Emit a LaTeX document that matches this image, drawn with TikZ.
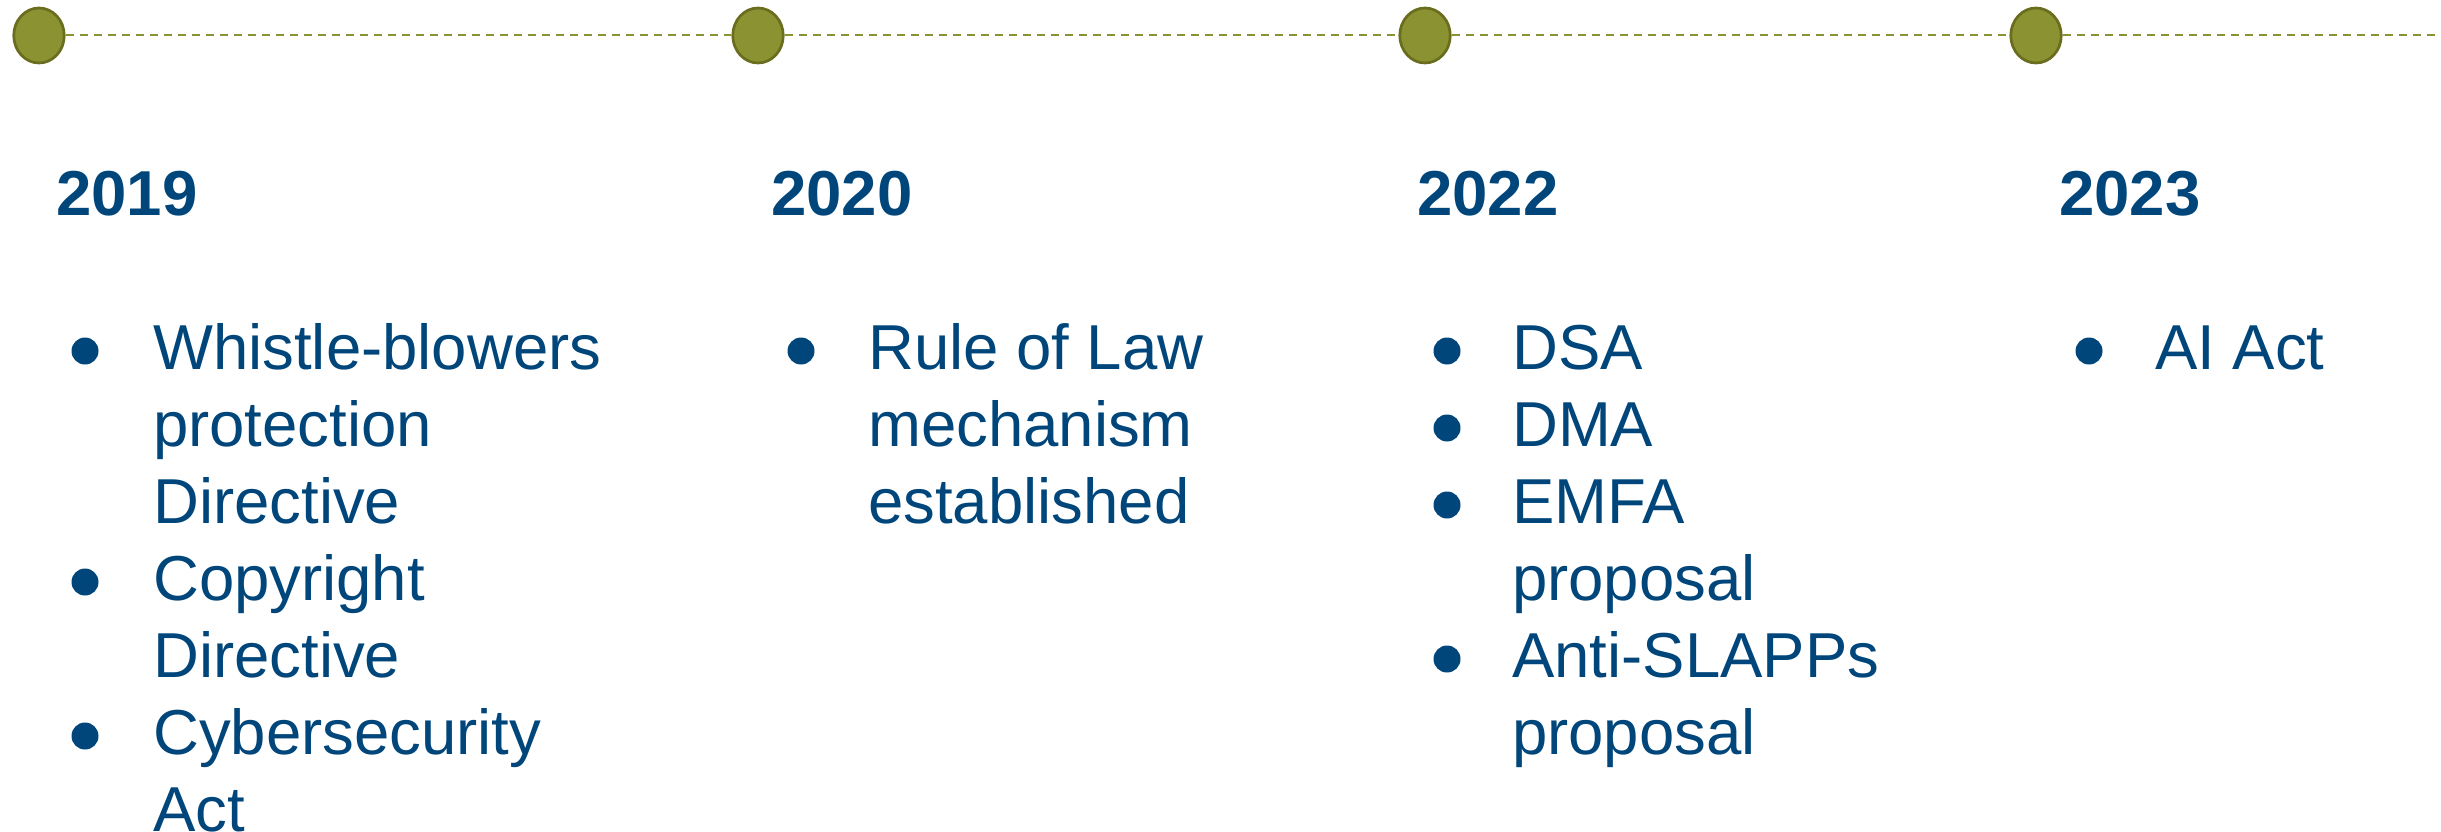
\documentclass[tikz,border=0pt]{standalone}
\usepackage{fontspec}
\setmainfont{Liberation Sans}
\usetikzlibrary{shapes.geometric}
\definecolor{olivedot}{HTML}{8B9232}
\definecolor{olivedraw}{HTML}{6A6D1E}
\definecolor{lawblue}{HTML}{00467A}

\begin{document}
\begin{tikzpicture}[x=1pt,y=-1pt,
    yeardot/.style={ellipse,draw=olivedraw,fill=olivedot,line width=2.7pt,
      minimum width=50.5pt,minimum height=55pt,inner sep=0pt},
    timeline/.style={draw=olivedot,line width=2pt,dash pattern=on 8pt off 6pt},
    yearlabel/.style={anchor=base west,inner sep=0pt,text=lawblue,
      font=\fontsize{63.5}{77}\selectfont\bfseries},
    itemtext/.style={anchor=base west,inner sep=0pt,text=lawblue,align=left,
      font=\fontsize{63.5}{77}\selectfont},
    itemdot/.style={circle,fill=lawblue,minimum size=27pt,inner sep=0pt}]
  \useasboundingbox (0,0) rectangle (2441,832);
  % timeline
  \node[yeardot] (d19) at (39,35.5) {};
  \node[yeardot] (d20) at (758,35.5) {};
  \node[yeardot] (d22) at (1425,35.5) {};
  \node[yeardot] (d23) at (2036,35.5) {};
  \coordinate (lineend) at (2441,35.5);
  \draw[timeline] (d19) -- (d20) -- (d22) -- (d23) -- (lineend);
  % years
  \node[yearlabel] (y19) at (56,215) {2019};
  \node[yearlabel] (y20) at (771,215) {2020};
  \node[yearlabel] (y22) at (1417,215) {2022};
  \node[yearlabel] (y23) at (2059,215) {2023};
  % 2019 (multi-line texts sit on the baseline of their last line)
  \node[itemdot] (b19a) at (85,351) {};
  \node[itemtext] (t19a) at (153,523) {Whistle-blowers\\protection\\Directive};
  \node[itemdot] (b19b) at (85,582) {};
  \node[itemtext] (t19b) at (153,677) {Copyright\\Directive};
  \node[itemdot] (b19c) at (85,736) {};
  \node[itemtext] (t19c) at (153,831) {Cybersecurity\\Act};
  % 2020
  \node[itemdot] (b20a) at (801,351) {};
  \node[itemtext] (t20a) at (868,523) {Rule of Law\\mechanism\\established};
  % 2022
  \node[itemdot] (b22a) at (1447,351) {};
  \node[itemtext] (t22a) at (1512,369) {DSA};
  \node[itemdot] (b22b) at (1447,428) {};
  \node[itemtext] (t22b) at (1512,446) {DMA};
  \node[itemdot] (b22c) at (1447,505) {};
  \node[itemtext] (t22c) at (1512,600) {EMFA\\proposal};
  \node[itemdot] (b22d) at (1447,659) {};
  \node[itemtext] (t22d) at (1512,754) {Anti-SLAPPs\\proposal};
  % 2023
  \node[itemdot] (b23a) at (2089,351) {};
  \node[itemtext] (t23a) at (2155,369) {AI Act};
\end{tikzpicture}
\end{document}
